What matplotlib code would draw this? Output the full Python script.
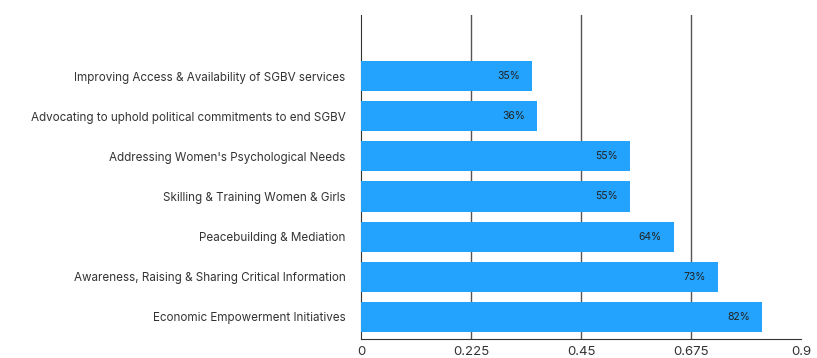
import matplotlib.pyplot as plt

categories = [
    "Improving Access & Availability of SGBV services",
    "Advocating to uphold political commitments to end SGBV",
    "Addressing Women's Psychological Needs",
    "Skilling & Training Women & Girls",
    "Peacebuilding & Mediation",
    "Awareness, Raising & Sharing Critical Information",
    "Economic Empowerment Initiatives",
]
shares = [0.35, 0.36, 0.55, 0.55, 0.64, 0.73, 0.82]
xticks = [0, 0.225, 0.45, 0.675, 0.9]
xtick_labels = ["0", "0.225", "0.45", "0.675", "0.9"]

plt.rcParams['font.family'] = ['Inter', 'DejaVu Sans']

fig = plt.figure(figsize=(8.17, 3.58), dpi=100)
ax = fig.add_axes([361 / 817, 1 - 339 / 358, 440 / 817, 324 / 358])

pos = list(range(len(categories)))
ax.barh(pos, shares, height=0.75, color="#24a3fe", zorder=3)

for y, v in zip(pos, shares):
    ax.text(v - 0.025, y, f"{round(v * 100)}%", ha="right", va="center",
            fontsize=7.5, color="#222222", zorder=4)

ax.set_xlim(0, 0.9)
ax.set_ylim(6.55, -1.52)
ax.set_yticks(pos)
ax.set_yticklabels(categories, fontsize=8.4, color="#333333")
ax.set_xticks(xticks)
ax.set_xticklabels(xtick_labels, fontsize=9.5, color="#333333")
ax.tick_params(axis="y", length=0, pad=11)
ax.tick_params(axis="x", length=0, pad=5)

for x in xticks[1:-1]:
    ax.axvline(x, color="#555555", linewidth=1.0, zorder=1)

for side in ("top", "right"):
    ax.spines[side].set_visible(False)
ax.spines["left"].set_color("#333333")
ax.spines["bottom"].set_color("#333333")

fig.savefig("out.png", dpi=100)
